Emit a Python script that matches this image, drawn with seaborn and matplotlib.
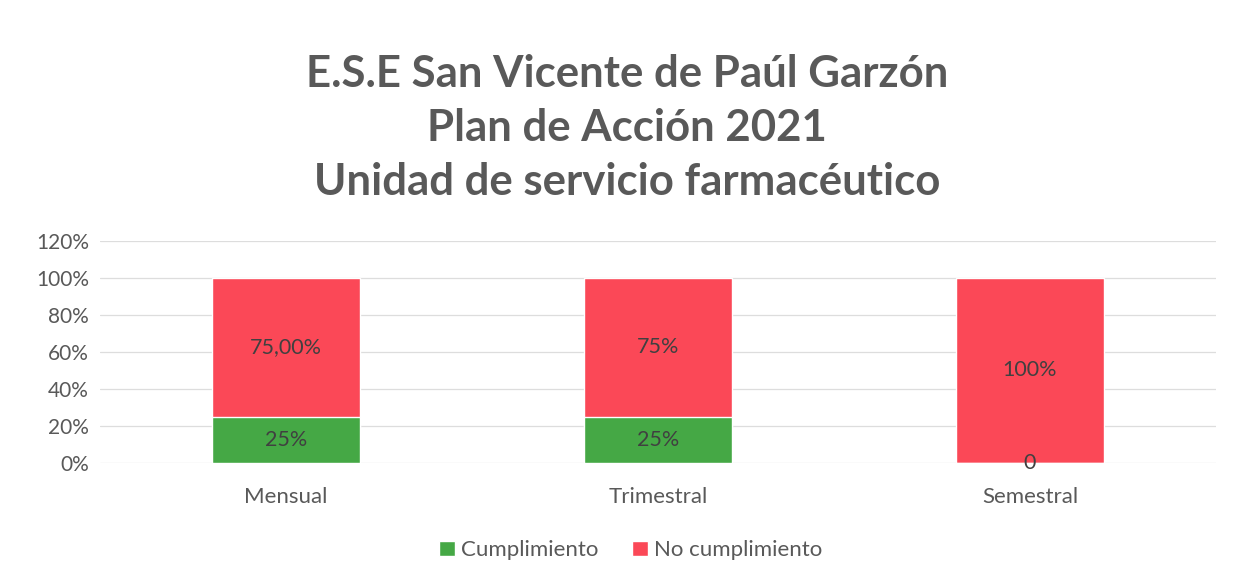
import pandas as pd
import matplotlib
matplotlib.use("Agg")
import matplotlib.pyplot as plt
import seaborn as sns
from matplotlib.patches import Patch

# data
periodos = ["Mensual", "Trimestral", "Semestral"]
cumplimiento = [0.25, 0.25, 0.0]
no_cumplimiento = [0.75, 0.75, 1.0]
etiq_cumpl = ["25%", "25%", "0"]
etiq_no_cumpl = ["75,00%", "75%", "100%"]

verde = "#45A845"
rojo = "#FB4857"
gris = "#595959"

df = pd.DataFrame({"Periodo": periodos,
                   "Cumplimiento": cumplimiento,
                   "No cumplimiento": no_cumplimiento})
df["Total"] = df["Cumplimiento"] + df["No cumplimiento"]

sns.set_style("white")
plt.rcParams["font.family"] = ["Lato", "DejaVu Sans"]

fig = plt.figure(figsize=(12.42, 5.88), dpi=100)
ax = fig.add_axes([0.0805, 0.2126, 0.8985, 0.3776])

# stacked: total (red) behind, cumplimiento (green) in front
sns.barplot(data=df, x="Periodo", y="Total", color=rojo, width=0.4,
            saturation=1, ax=ax, zorder=2)
sns.barplot(data=df, x="Periodo", y="Cumplimiento", color=verde, width=0.4,
            saturation=1, ax=ax, zorder=3)

ax.bar_label(ax.containers[1], labels=etiq_cumpl, label_type="center",
             fontsize=15.5, color="#404040", zorder=5)
for i, row in df.iterrows():
    ax.text(i, row["Cumplimiento"] + row["No cumplimiento"] / 2, etiq_no_cumpl[i],
            ha="center", va="center", fontsize=15.5, color="#404040", zorder=4)

ax.set_ylim(0, 1.2)
ax.set_yticks([0, 0.2, 0.4, 0.6, 0.8, 1.0, 1.2])
ax.set_yticklabels(["0%", "20%", "40%", "60%", "80%", "100%", "120%"])
ax.yaxis.grid(True, color="#DDDDDD", linewidth=0.9, zorder=0)
ax.set_axisbelow(True)
ax.tick_params(axis="both", length=0, labelcolor=gris)
ax.tick_params(axis="x", pad=17, labelsize=16)
ax.tick_params(axis="y", pad=8, labelsize=15)
ax.set_xlabel("")
ax.set_ylabel("")
for s in ax.spines.values():
    s.set_visible(False)

fig.text(0.505, 0.782, "E.S.E San Vicente de Paúl Garzón\nPlan de Acción 2021\nUnidad de servicio farmacéutico",
         ha="center", va="center", fontsize=31.5, fontweight="bold", color=gris,
         linespacing=1.42)

handles = [Patch(facecolor=verde, label="Cumplimiento"),
           Patch(facecolor=rojo, label="No cumplimiento")]
fig.legend(handles=handles, loc="center", bbox_to_anchor=(0.508, 0.064), ncol=2,
           frameon=False, fontsize=16, labelcolor=gris, handlelength=0.7,
           handleheight=0.7, handletextpad=0.3, columnspacing=1.5)

fig.savefig("out.png", dpi=100, facecolor="white")
